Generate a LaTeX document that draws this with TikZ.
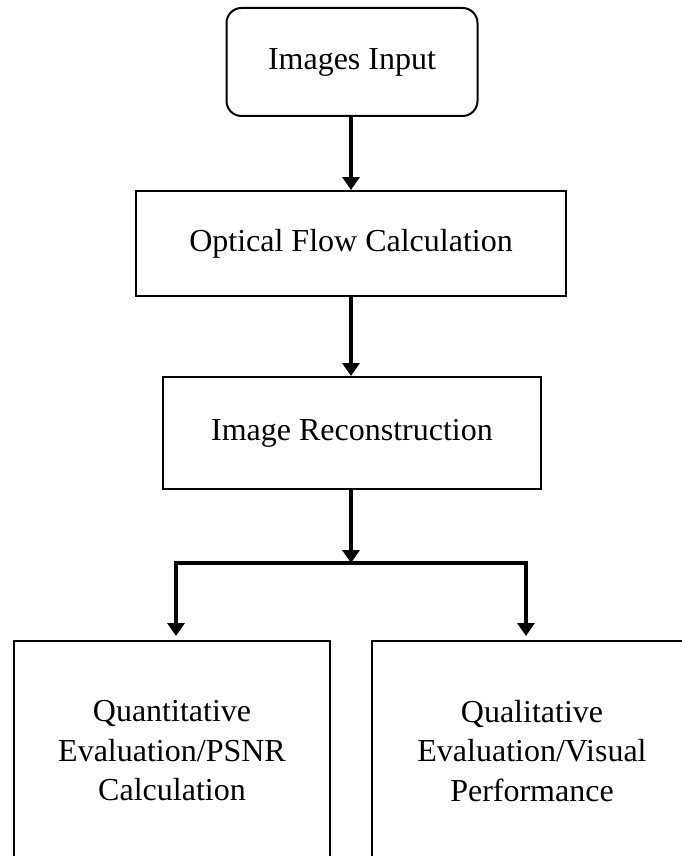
\documentclass[tikz,border=0pt]{standalone}
\usepackage{fontspec}
\setmainfont{Liberation Serif}
\usetikzlibrary{arrows.meta}
\begin{document}
\begin{tikzpicture}[x=1pt,y=-1pt,
  box/.style={draw, line width=2pt, align=center, inner sep=0pt, font=\fontsize{32}{39.5}\selectfont},
  tip/.style={Triangle[length=13pt,width=17pt]},
  arr/.style={line width=3.5pt, -{Triangle[length=13pt,width=17pt]}},
  split/.style={line width=3.5pt, line join=miter, {Triangle[length=13pt,width=17pt]}-{Triangle[length=13pt,width=17pt]}, shorten <=4pt, shorten >=4pt},
]
\clip (0,0) rectangle (682,856);
\node[box, rounded corners=15pt, minimum width=251pt, minimum height=108pt] (a) at (352,62) {Images Input};
\node[box, minimum width=430pt, minimum height=105pt] (b) at (351,243.5) {Optical Flow Calculation};
\node[box, minimum width=378pt, minimum height=112pt] (c) at (352,433) {Image Reconstruction};
\node[box, minimum width=316pt, minimum height=220pt] (q) at (172,751) {Quantitative\\Evaluation/PSNR\\Calculation};
\node[box, minimum width=320pt, minimum height=220pt] (r) at (532,751) {Qualitative\\Evaluation/Visual\\Performance};
\coordinate (j) at (351,563);
\coordinate (jl) at (176,563);
\coordinate (jr) at (526,563);
\draw[arr] (a.south -| j) -- (b.north -| j);
\draw[arr] (b.south -| j) -- (c.north -| j);
\draw[arr] (c.south -| j) -- (j);
\draw[split] (jl |- q.north) -- (jl) -- (jr) -- (jr |- r.north);
\end{tikzpicture}
\end{document}
